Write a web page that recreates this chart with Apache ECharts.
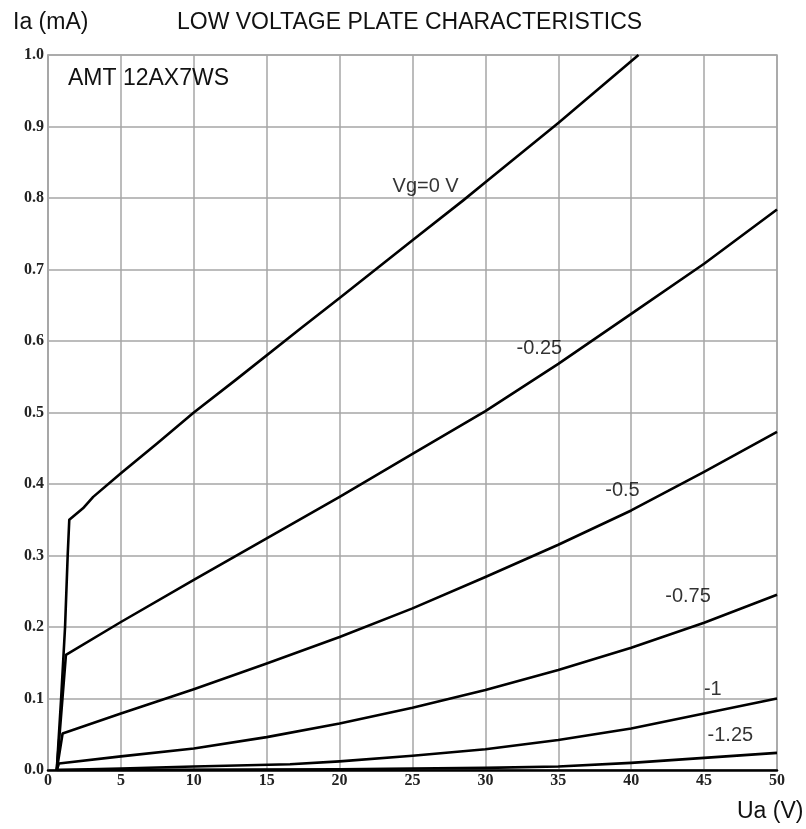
<!DOCTYPE html>
<html>
<head>
<meta charset="utf-8">
<script src="https://cdn.jsdelivr.net/npm/echarts@6/dist/echarts.min.js"></script>
<style>
html,body{margin:0;padding:0;background:#fff;}
#chart{width:806px;height:829px;}
</style>
</head>
<body>
<div id="chart"></div>
<script>
// Plate voltage (V) and plate current (mA), per grid voltage
const ua_0    = [0.6, 0.9, 1.17, 1.35, 1.46, 2.4, 3.1, 5, 7.5, 10, 12.9, 17.3, 20, 25, 28.5, 30, 35, 40.5];
const ia_0    = [0, 0.1, 0.2, 0.3, 0.35, 0.366, 0.382, 0.415, 0.457, 0.5, 0.546, 0.617, 0.660, 0.741, 0.797, 0.822, 0.905, 1.0];
const ua_025  = [0.6, 1.23, 5, 10, 15, 20, 25, 30, 35, 40, 45, 50];
const ia_025  = [0, 0.161, 0.207, 0.266, 0.324, 0.382, 0.442, 0.502, 0.568, 0.638, 0.708, 0.784];
const ua_05   = [0.6, 1.0, 5, 10, 15, 20, 25, 30, 35, 40, 45, 50];
const ia_05   = [0, 0.051, 0.079, 0.113, 0.149, 0.186, 0.226, 0.270, 0.315, 0.363, 0.417, 0.473];
const ua_075  = [0.6, 0.75, 5, 10, 15, 20, 25, 30, 35, 40, 45, 50];
const ia_075  = [0, 0.009, 0.019, 0.030, 0.046, 0.065, 0.087, 0.112, 0.140, 0.171, 0.206, 0.245];
const ua_1    = [0.6, 5, 10, 16.6, 20, 25, 30, 35, 40, 45, 50];
const ia_1    = [0, 0.002, 0.005, 0.008, 0.012, 0.020, 0.029, 0.042, 0.058, 0.079, 0.100];
const ua_125  = [0.6, 20, 25, 30, 35, 40, 45, 50];
const ia_125  = [0, 0.001, 0.002, 0.003, 0.005, 0.010, 0.017, 0.024];

// Curve labels and their anchor positions (data coordinates)
const curveLabels = ['Vg=0 V', '-0.25', '-0.5', '-0.75', '-1', '-1.25'];
const labelUa     = [25.9, 33.7, 39.4, 43.9, 45.6, 46.8];
const labelIa     = [0.816, 0.590, 0.391, 0.243, 0.113, 0.048];

const xTicks = [0, 5, 10, 15, 20, 25, 30, 35, 40, 45, 50];
const yTicks = [0, 0.1, 0.2, 0.3, 0.4, 0.5, 0.6, 0.7, 0.8, 0.9, 1.0];

const curves = [[ua_0, ia_0], [ua_025, ia_025], [ua_05, ia_05], [ua_075, ia_075], [ua_1, ia_1], [ua_125, ia_125]];

const chart = echarts.init(document.getElementById('chart'), null, {renderer: 'canvas'});
const gridColor = '#a6a6a6';
const tickFont = {fontFamily: 'Liberation Serif', fontWeight: 'bold', fontSize: 16, color: '#222'};
const sans = 'Liberation Sans';

const series = curves.map(function (c) {
  return {
    type: 'line',
    data: c[0].map(function (x, i) { return [x, c[1][i]]; }),
    showSymbol: false,
    smooth: false,
    lineStyle: {color: '#000', width: 2.6, join: 'round'},
    silent: true,
    z: 3
  };
});
series.push({
  type: 'scatter',
  symbolSize: 0,
  silent: true,
  z: 4,
  data: curveLabels.map(function (t, i) { return {value: [labelUa[i], labelIa[i]], name: t}; }),
  label: {
    show: true,
    position: 'inside',
    formatter: function (p) { return p.name; },
    fontFamily: sans,
    fontSize: 20,
    color: '#000'
  }
});

chart.setOption({
  animation: false,
  backgroundColor: '#fff',
  grid: {left: 48, right: 29, top: 55, bottom: 59, show: true, borderColor: gridColor, borderWidth: 1.5},
  xAxis: {
    type: 'value', min: xTicks[0], max: xTicks[xTicks.length - 1], interval: 5,
    axisLine: {show: true, lineStyle: {color: '#000', width: 2.5}},
    axisTick: {show: false},
    axisLabel: Object.assign({margin: 3}, tickFont),
    splitLine: {show: true, lineStyle: {color: gridColor, width: 1.5}}
  },
  yAxis: {
    type: 'value', min: yTicks[0], max: yTicks[yTicks.length - 1], interval: 0.1,
    axisLine: {show: true, lineStyle: {color: gridColor, width: 1.5}},
    axisTick: {show: false},
    axisLabel: Object.assign({margin: 4, formatter: function (v) { return v.toFixed(1); }}, tickFont),
    splitLine: {show: true, lineStyle: {color: gridColor, width: 1.5}}
  },
  graphic: [
    {type: 'text', x: 13, y: 23, style: {text: 'Ia (mA)', font: '23px "Liberation Sans"', fill: '#111', verticalAlign: 'middle', align: 'left'}},
    {type: 'text', x: 177, y: 23, style: {text: 'LOW VOLTAGE PLATE CHARACTERISTICS', font: '23px "Liberation Sans"', fill: '#111', verticalAlign: 'middle', align: 'left'}},
    {type: 'text', x: 68, y: 79, z: 10, style: {text: 'AMT 12AX7WS', font: '23px "Liberation Sans"', fill: '#111', verticalAlign: 'middle', align: 'left'}},
    {type: 'text', x: 737, y: 812, style: {text: 'Ua (V)', font: '23px "Liberation Sans"', fill: '#111', verticalAlign: 'middle', align: 'left'}}
  ],
  series: series
});
</script>
</body>
</html>
